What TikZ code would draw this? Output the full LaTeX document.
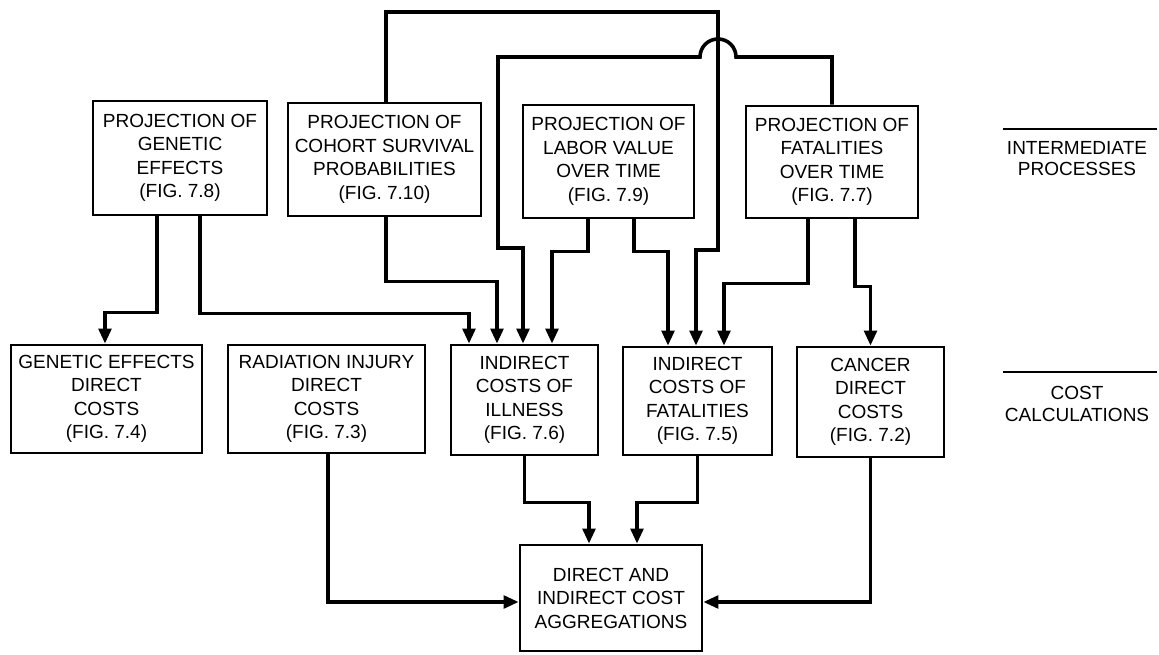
\documentclass[tikz,border=0pt]{standalone}
\usepackage{fontspec}
\setmainfont{Liberation Sans}
\usetikzlibrary{arrows.meta}
\begin{document}
\begin{tikzpicture}[x=1pt,y=-1pt,
  box/.style={draw, line width=2.6pt, align=center, inner sep=0pt,
    font=\fontsize{19}{23.5}\selectfont},
  conn/.style={line width=3.6pt, line join=miter, -{Triangle[length=15pt,width=12.5pt]}},
  lab/.style={align=center, inner sep=0pt, font=\fontsize{19}{21.5}\selectfont},
  rulebar/.style={line width=2.8pt}]
\useasboundingbox (0,0) rectangle (1159,655);
\fill[white] (0,0) rectangle (1159,655);

% intermediate processes
\node[box, minimum width=174pt, minimum height=114pt] (b1) at (180,158)
  {PROJECTION OF\\GENETIC\\EFFECTS\\(FIG. 7.8)};
\node[box, minimum width=193pt, minimum height=113pt] (b2) at (384.5,159.5)
  {PROJECTION OF\\COHORT SURVIVAL\\PROBABILITIES\\(FIG. 7.10)};
\node[box, minimum width=171pt, minimum height=113pt] (b3) at (608.5,161.5)
  {PROJECTION OF\\LABOR VALUE\\OVER TIME\\(FIG. 7.9)};
\node[box, minimum width=172pt, minimum height=112pt] (b4) at (832,162)
  {PROJECTION OF\\FATALITIES\\OVER TIME\\(FIG. 7.7)};

% cost calculations
\node[box, minimum width=191pt, minimum height=108pt] (c1) at (106.5,399)
  {GENETIC EFFECTS\\DIRECT\\COSTS\\(FIG. 7.4)};
\node[box, minimum width=197pt, minimum height=108pt] (c2) at (326.5,399)
  {RADIATION INJURY\\DIRECT\\COSTS\\(FIG. 7.3)};
\node[box, minimum width=147pt, minimum height=110pt] (c3) at (524.5,400)
  {INDIRECT\\COSTS OF\\ILLNESS\\(FIG. 7.6)};
\node[box, minimum width=149pt, minimum height=108pt] (c4) at (697.5,401)
  {INDIRECT\\COSTS OF\\FATALITIES\\(FIG. 7.5)};
\node[box, minimum width=147pt, minimum height=110pt] (c5) at (870.5,402)
  {CANCER\\DIRECT\\COSTS\\(FIG. 7.2)};

% aggregation
\node[box, minimum width=182pt, minimum height=106pt] (d) at (611,598)
  {DIRECT AND\\INDIRECT COST\\AGGREGATIONS};

% side labels
\node[lab] (l1) at (1077,158.5) {INTERMEDIATE\\PROCESSES};
\node[lab] (l2) at (1077,404) {COST\\CALCULATIONS};
\draw[rulebar] (1003,129) -- (1157,129);
\draw[rulebar] (1003,372) -- (1157,372);

% column coordinates
\coordinate (g1) at (157,0);
\coordinate (g2) at (200,0);
\coordinate (co) at (386,0);
\coordinate (lb1) at (588,0);
\coordinate (lb2) at (634,0);
\coordinate (ft1) at (808,0);
\coordinate (ft2) at (855,0);
\coordinate (c1a) at (105,0);
\coordinate (a1) at (469,0);
\coordinate (a2) at (497,0);
\coordinate (a3) at (523,0);
\coordinate (a4) at (552,0);
\coordinate (d1) at (668,0);
\coordinate (d2) at (696,0);
\coordinate (d3) at (724,0);
\coordinate (ox) at (718,0);
\coordinate (ix) at (498,0);
\coordinate (c2o) at (328,0);
\coordinate (da1) at (589,0);
\coordinate (da2) at (637,0);
\coordinate (otop) at (0,12);
\coordinate (itop) at (0,57);
\coordinate (yr) at (0,250);
\coordinate (yi) at (0,248);
\coordinate (ys) at (0,602);

% connectors
\draw[conn] (b1.south -| g1) -- ++(0,96) -| (c1.north -| c1a);
\draw[conn] (b1.south -| g2) -- ++(0,97) -| (c3.north -| a1);
\draw[conn] (b2.south -| co) -- ++(0,64) -| (c3.north -| a2);
\draw[conn] (b2.north -| co) -- (co |- otop) -- (ox |- otop) -- (ox |- yr) -| (c4.north -| d2);
\draw[conn] (b4.north) -- (b4.north |- itop) -- (736,57)
  .. controls (736,47) and (728,39) .. (718,39)
  .. controls (708,39) and (700,47) .. (700,57)
  -- (ix |- itop) -- (ix |- yi) -| (c3.north -| a3);
\draw[conn] (b3.south -| lb1) -- ++(0,32) -| (c3.north -| a4);
\draw[conn] (b3.south -| lb2) -- ++(0,32) -| (c4.north -| d1);
\draw[conn] (b4.south -| ft1) -- ++(0,64) -| (c4.north -| d3);
\draw[conn] (b4.south -| ft2) -- ++(0,67) -| (c5.north);
\draw[conn] (c2.south -| c2o) |- (d.west |- ys);
\draw[conn] (c3.south) -- ++(0,46) -| (d.north -| da1);
\draw[conn] (c4.south) -- ++(0,46) -| (d.north -| da2);
\draw[conn] (c5.south) |- (d.east |- ys);
\end{tikzpicture}
\end{document}
